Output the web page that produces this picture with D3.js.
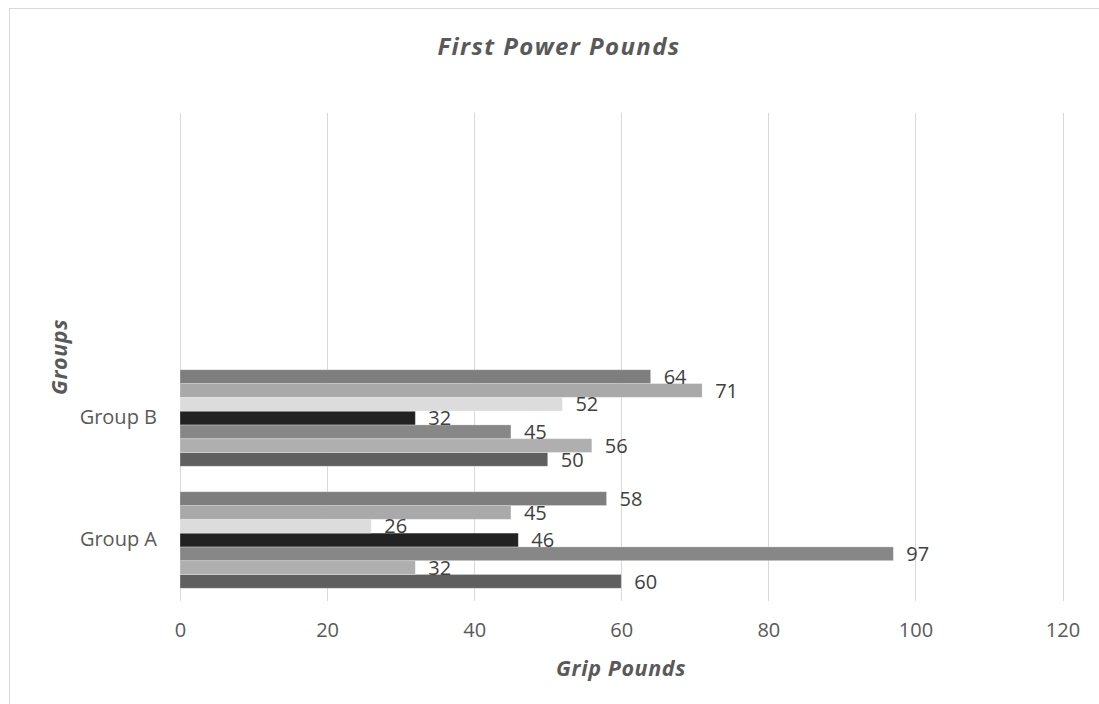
<!DOCTYPE html>
<html>
<head>
<meta charset="utf-8">
<script src="https://cdnjs.cloudflare.com/ajax/libs/d3/7.8.5/d3.min.js"></script>
<style>
  html, body { margin: 0; padding: 0; background: #fff; }
  svg { display: block; }
</style>
</head>
<body>
<svg id="chart" width="1099" height="704"></svg>
<script>
// ---- data (bottom-to-top order of categories as in the source chart) ----
const categories = ["Group A", "Group B", "", ""];
const seriesNames = ["Series 1", "Series 2", "Series 3", "Series 4", "Series 5", "Series 6", "Series 7"];
const series1 = [60, 50];
const series2 = [32, 56];
const series3 = [97, 45];
const series4 = [46, 32];
const series5 = [26, 52];
const series6 = [45, 71];
const series7 = [58, 64];
const seriesValues = [series1, series2, series3, series4, series5, series6, series7];
const seriesColors = ["#5f5f5f", "#afafaf", "#878787", "#222222", "#dcdcdc", "#a9a9a9", "#7e7e7e"];
const xTicks = [0, 20, 40, 60, 80, 100, 120];
const titleText = "First Power Pounds";
const xTitle = "Grip Pounds";
const yTitle = "Groups";

const svg = d3.select("#chart");
const W = 1099, H = 704;
const plot = { left: 180, right: 1062.5, top: 113, bottom: 601 };
const FONT = "'Open Sans', sans-serif";

// chart border
svg.append("rect")
  .attr("x", 9.5).attr("y", 8.5)
  .attr("width", W + 20).attr("height", H + 20)
  .attr("fill", "#fff").attr("stroke", "#d9d9d9").attr("stroke-width", 1);

const x = d3.scaleLinear().domain([0, 120]).range([plot.left, plot.right]);

// categories indexed; top of chart = last category
const catIdx = categories.map((c, i) => i);
const y0 = d3.scaleBand()
  .domain(catIdx.slice().reverse())
  .range([plot.top, plot.bottom])
  .paddingInner(0.209).paddingOuter(0.1045);
const sIdx = seriesNames.map((s, i) => i);
const y1 = d3.scaleBand()
  .domain(sIdx.slice().reverse())
  .range([0, y0.bandwidth()]);

// gridlines
svg.append("g")
  .selectAll("line")
  .data(xTicks)
  .join("line")
  .attr("x1", d => Math.round(x(d)) + 0.5).attr("x2", d => Math.round(x(d)) + 0.5)
  .attr("y1", plot.top).attr("y2", plot.bottom)
  .attr("stroke", "#d9d9d9").attr("stroke-width", 1);

// x axis tick labels
const xAxis = d3.axisBottom(x).tickValues(xTicks).tickSize(0).tickPadding(0);
const gx = svg.append("g").attr("transform", `translate(0,${plot.bottom})`).call(xAxis);
gx.select(".domain").remove();
gx.selectAll("text")
  .attr("dy", null).attr("y", 36)
  .attr("font-family", FONT).attr("font-size", 20)
  .attr("fill", "#595959");

// y axis labels
const yAxis = d3.axisLeft(y0).tickFormat(i => categories[i]).tickSize(0).tickPadding(0);
const gy = svg.append("g").attr("transform", `translate(157,0)`).call(yAxis);
gy.select(".domain").remove();
gy.selectAll("text")
  .attr("x", 0)
  .attr("font-family", FONT).attr("font-size", 20)
  .attr("fill", "#595959");

// bars
const barData = [];
seriesValues.forEach((vals, s) => {
  vals.forEach((v, c) => barData.push({ s, c, v }));
});

svg.append("g")
  .selectAll("rect")
  .data(barData)
  .join("rect")
  .attr("x", x(0))
  .attr("y", d => y0(d.c) + y1(d.s))
  .attr("width", d => x(d.v) - x(0))
  .attr("height", y1.bandwidth())
  .attr("fill", d => seriesColors[d.s])
  .attr("stroke", "rgba(255,255,255,0.35)")
  .attr("stroke-width", 0.8);

// data labels
svg.append("g")
  .selectAll("text")
  .data(barData)
  .join("text")
  .attr("x", d => x(d.v) + 13)
  .attr("y", d => y0(d.c) + y1(d.s) + y1.bandwidth() / 2)
  .attr("dy", "0.36em")
  .attr("font-family", FONT).attr("font-size", 20)
  .attr("fill", "#404040")
  .text(d => d.v);

// title
svg.append("text")
  .attr("x", 559).attr("y", 55)
  .attr("text-anchor", "middle")
  .attr("font-family", FONT).attr("font-size", 24)
  .attr("letter-spacing", 1.4)
  .attr("font-weight", "bold").attr("font-style", "italic")
  .attr("fill", "#595959")
  .text(titleText);

// axis titles
svg.append("text")
  .attr("x", 621).attr("y", 676)
  .attr("text-anchor", "middle")
  .attr("font-family", FONT).attr("font-size", 21.5)
  .attr("letter-spacing", 0.6)
  .attr("font-weight", "bold").attr("font-style", "italic")
  .attr("fill", "#595959")
  .text(xTitle);

svg.append("text")
  .attr("transform", "translate(67,357) rotate(-90)")
  .attr("text-anchor", "middle")
  .attr("font-family", FONT).attr("font-size", 21.5)
  .attr("letter-spacing", 0.6)
  .attr("font-weight", "bold").attr("font-style", "italic")
  .attr("fill", "#595959")
  .text(yTitle);
</script>
</body>
</html>
